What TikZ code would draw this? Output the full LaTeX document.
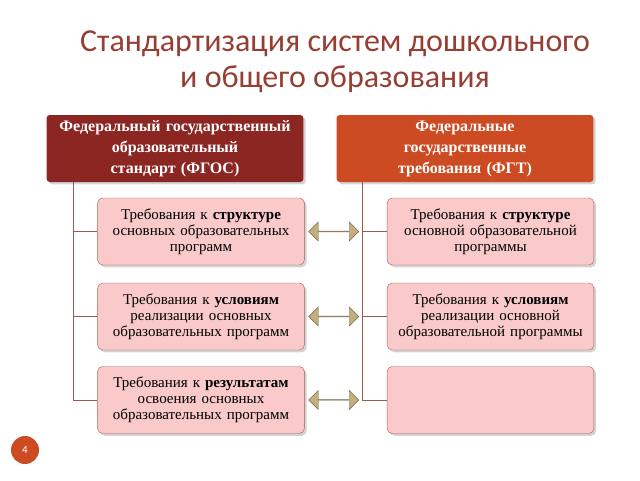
\documentclass[tikz,border=0pt]{standalone}
\usepackage{fontspec}
\setmainfont{Liberation Serif}
\newfontfamily\titlefont{Carlito}
\usetikzlibrary{shapes.arrows,shadows,calc}
\definecolor{titlec}{RGB}{150,62,50}
\definecolor{hdl}{RGB}{140,38,34}
\definecolor{hdr}{RGB}{205,75,35}
\definecolor{boxf}{RGB}{250,202,202}
\definecolor{boxd}{RGB}{165,95,90}
\definecolor{treec}{RGB}{150,90,80}
\definecolor{arr}{RGB}{195,175,125}
\begin{document}
\begin{tikzpicture}[x=1pt,y=-1pt]
\useasboundingbox (0,0) rectangle (640,480);
\tikzset{
 hdr/.style={rounded corners=3pt, minimum width=254pt, minimum height=67pt, text width=250pt, align=center, text=white, font=\bfseries\fontsize{16}{21}\selectfont, drop shadow={opacity=0.35}},
 req/.style={draw=boxd, fill=boxf, rounded corners=5pt, minimum width=203pt, minimum height=67pt, text width=200pt, align=center, font=\fontsize{15}{16}\selectfont, drop shadow={opacity=0.35}},
 tree/.style={draw=treec, line width=1pt},
 dbl/.style={double arrow, fill=arr, draw=arr!60!black, minimum width=19pt, minimum height=50pt, double arrow head extend=4pt, inner sep=0pt}
}
\node[text=titlec, font=\titlefont\fontsize{32}{36}\selectfont, align=center] (title) at (335,62) {Стандартизация систем дошкольного\\и общего образования};
\node[hdr, fill=hdl] (L) at (175,148.5) {Федеральный государственный\\образовательный\\стандарт (ФГОС)};
\node[hdr, fill=hdr] (R) at (465,148.5) {Федеральные\\государственные\\требования (ФГТ)};
\node[req] (l1) at (201,231.5) {Требования к \textbf{структуре}\\основных образовательных\\программ};
\node[req] (l2) at (201,316.5) {Требования к \textbf{условиям}\\реализации основных\\образовательных программ};
\node[req] (l3) at (201,400) {Требования к \textbf{результатам}\\освоения основных\\образовательных программ};
\node[req] (r1) at (490.5,231.5) {Требования к \textbf{структуре}\\основной образовательной\\программы};
\node[req] (r2) at (490.5,316.5) {Требования к \textbf{условиям}\\реализации основной\\образовательной программы};
\node[req] (r3) at (490.5,400) {};
\coordinate (lt) at (73,182);
\coordinate (rt) at (362,182);
\draw[tree] (lt) |- (l3.west);
\draw[tree] (lt |- l1.west) -- (l1.west);
\draw[tree] (lt |- l2.west) -- (l2.west);
\draw[tree] (rt) |- (r3.west);
\draw[tree] (rt |- r1.west) -- (r1.west);
\draw[tree] (rt |- r2.west) -- (r2.west);
\foreach \i in {1,2,3}{
 \node[dbl] (a\i) at ($(l\i.east)!0.5!(r\i.west)+(-12,0)$) {};
}
\node[circle, fill=hdr, text=white, minimum size=28pt, inner sep=0pt, font=\titlefont\fontsize{11}{12}\selectfont] (pg) at (25,450) {4};
\end{tikzpicture}
\end{document}
